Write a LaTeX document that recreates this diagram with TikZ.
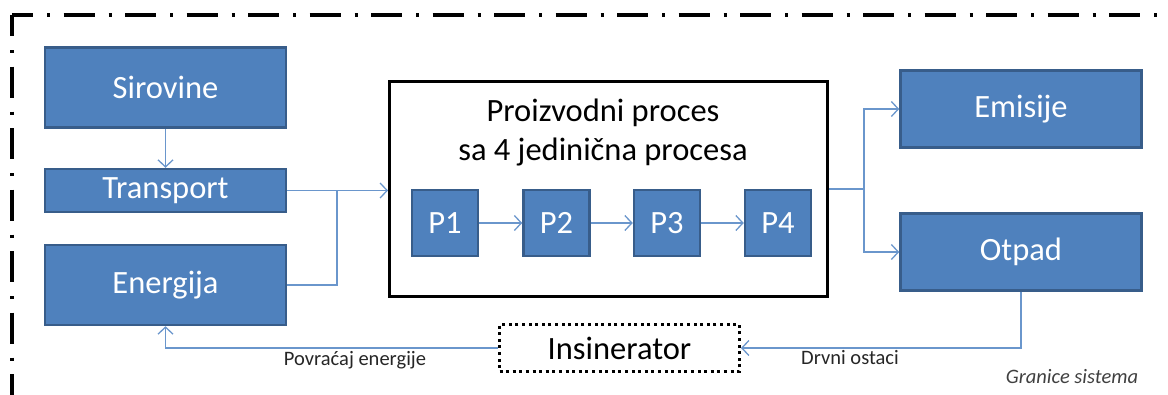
\documentclass[tikz,border=0pt]{standalone}
\usepackage{fontspec}
\setmainfont{Carlito}
\usetikzlibrary{arrows.meta}
\definecolor{boxblue}{HTML}{4F81BD}
\definecolor{boxedge}{HTML}{385D8A}
\definecolor{linkblue}{HTML}{6A96CC}
\begin{document}
\begin{tikzpicture}[x=1pt,y=-1pt,
  bluebox/.style={draw=boxedge, fill=boxblue, line width=2.5pt, text=white,
    font=\fontsize{32.5}{38}\selectfont, inner sep=0pt},
  pbox/.style={bluebox, minimum width=66pt, minimum height=66pt},
  sidebox/.style={bluebox, minimum width=241pt},
  link/.style={draw=linkblue, line width=1.3pt},
  arr/.style={link, -{Straight Barb[length=7pt,width=15pt,line width=1.3pt]}},
  smalllabel/.style={font=\fontsize{20.5}{24}\selectfont, inner sep=0pt, text=black!85},
  border/.style={line width=3.3pt, dash pattern=on 31pt off 14pt on 3pt off 13.5pt, dash phase=10pt}
]
\useasboundingbox (0,0) rectangle (1168,394);
\begin{scope}
  \clip (0,0) rectangle (1168,394);
  \coordinate (corner) at (12,15);
  \coordinate (bright) at (1190,15);
  \coordinate (bbottom) at (12,420);
  \draw[border] (corner) -- (bright);
  \draw[border] (corner) -- (bbottom);
\end{scope}

% left column
\node[sidebox, minimum height=80pt] (sir) at (165.5,87.5) {Sirovine};
\node[sidebox, minimum height=43pt] (tra) at (165.5,190.5) {Transport};
\node[sidebox, minimum height=80pt] (ene) at (165.5,285) {Energija};

% process box
\node[draw=black, line width=3pt, minimum width=438pt, minimum height=215pt, inner sep=0pt] (proc) at (608.5,189) {};
\node[font=\fontsize{32.5}{39}\selectfont, align=center, inner sep=0pt] (ptitle) at (603,132.5) {Proizvodni proces\\sa 4 jedinična procesa};
\node[pbox] (p1) at (445,223) {P1};
\node[pbox] (p2) at (556.5,223) {P2};
\node[pbox] (p3) at (667,223) {P3};
\node[pbox] (p4) at (778,223) {P4};

% outputs
\node[sidebox, minimum height=77pt] (emi) at (1021,109) {Emisije};
\node[sidebox, minimum height=77pt] (otp) at (1021,252) {Otpad};

% incinerator
\node[draw=black, line width=3pt, dash pattern=on 3pt off 3.6pt, minimum width=240pt, minimum height=47pt, inner sep=0pt, font=\fontsize{32.5}{38}\selectfont] (ins) at (619.5,348) {Insinerator};

% connectors
\draw[arr] (sir) -- (tra);
\draw[arr] (tra.east) -- (tra.east -| proc.west);
\coordinate (j1) at (337,190.5);
\draw[link] (ene.east) -| (j1);
\draw[arr] (p1) -- (p2);
\draw[arr] (p2) -- (p3);
\draw[arr] (p3) -- (p4);
\coordinate (j2) at (864,189);
\draw[link] (proc.east) -- (j2);
\draw[arr] (j2) |- (emi.west);
\draw[arr] (j2) |- (otp.west);
\draw[arr] (otp.south) |- (ins.east);
\draw[arr] (ins.west) -| (ene.south);

% labels
\node[smalllabel] (lab1) at (355,360) {Povraćaj energije};
\node[smalllabel] (lab2) at (850,358) {Drvni ostaci};
\node[smalllabel, font=\fontsize{20.5}{24}\selectfont\itshape, text=black!75] (lab3) at (1072,377) {Granice sistema};
\end{tikzpicture}
\end{document}
